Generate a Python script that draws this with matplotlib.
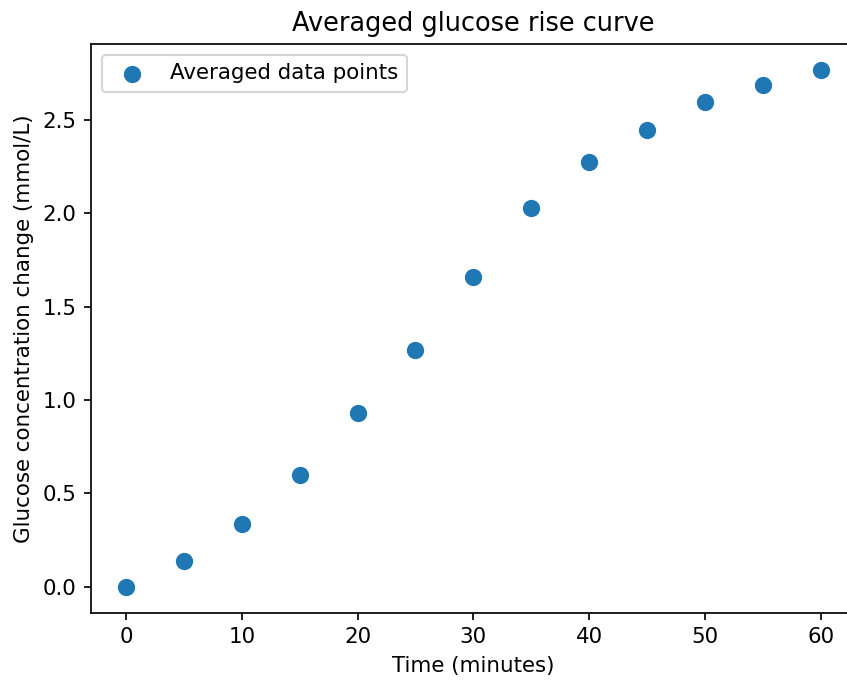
import matplotlib
matplotlib.use("Agg")
import matplotlib.pyplot as plt

time_min = [0, 5, 10, 15, 20, 25, 30, 35, 40, 45, 50, 55, 60]
glucose_change = [0.0, 0.139, 0.336, 0.600, 0.930, 1.268, 1.657, 2.027,
                  2.273, 2.446, 2.594, 2.687, 2.768]

dpi = 154
fig = plt.figure(figsize=(847 / dpi, 680 / dpi), dpi=dpi)
ax = fig.add_axes([91.3 / 847, (680 - 612.5) / 680, 764 / 847, (612.5 - 44) / 680])
ax.scatter(time_min, glucose_change, s=50, color="#1f77b4", label="Averaged data points")
ax.set_title("Averaged glucose rise curve")
ax.set_xlabel("Time (minutes)")
ax.set_ylabel("Glucose concentration change (mmol/L)")
ax.legend(loc="upper left")
fig.savefig("out.png", dpi=dpi)
